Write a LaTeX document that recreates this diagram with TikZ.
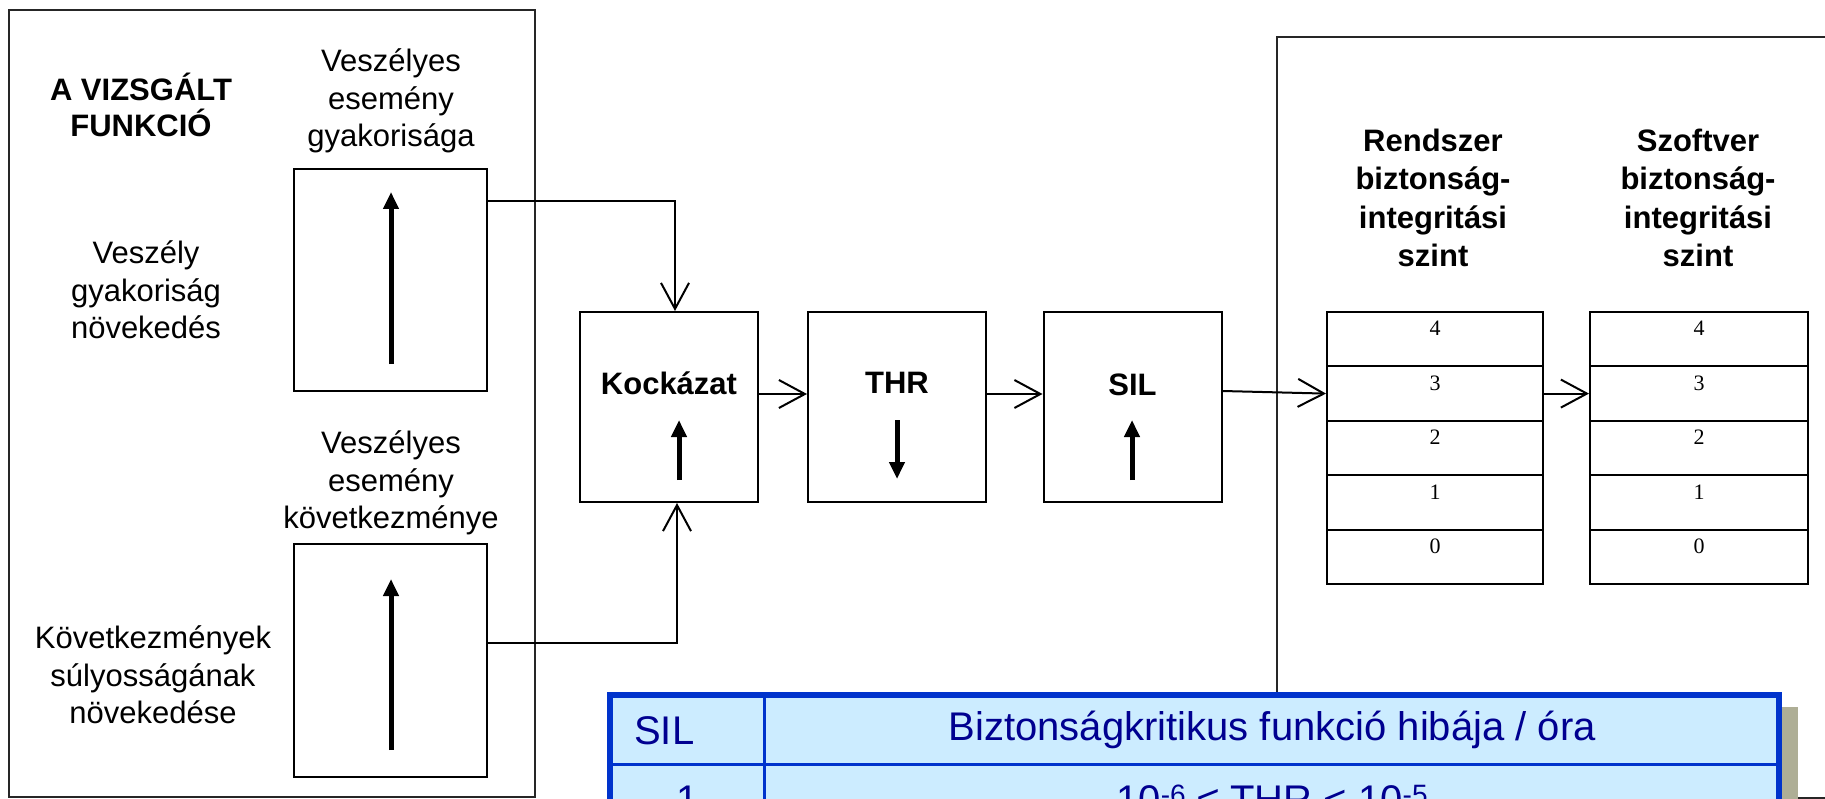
\documentclass[tikz,border=0pt]{standalone}
\usepackage{fontspec}
\setmainfont{Liberation Sans}
\newfontfamily\numfont{Liberation Serif}
\usetikzlibrary{calc}
\usetikzlibrary{arrows.meta}
\usepackage{xcolor}
\definecolor{silblue}{HTML}{0033CC}
\definecolor{silfill}{HTML}{CCECFF}
\definecolor{silink}{HTML}{000090}
\definecolor{silshadow}{HTML}{AEAE96}

\begin{document}
\begin{tikzpicture}[x=1pt,y=-1pt,
  panel/.style={draw=black!85,line width=2pt},
  blk/.style={draw,line width=2pt,minimum width=178pt,minimum height=190pt,inner sep=0pt},
  inbox/.style={draw,line width=2pt,minimum width=193pt,inner sep=0pt},
  txt/.style={align=center,font=\fontsize{31}{37.5}\selectfont},
  btxt/.style={align=center,font=\fontsize{31}{38.5}\selectfont\bfseries},
  flow/.style={line width=2pt,-{Straight Barb[length=26pt,width=28pt]}},
  trend/.style={line width=5pt,-{Triangle[length=17pt,width=15pt]}},
  cell/.style={draw,line width=2pt,minimum height=54.4pt,anchor=north west,inner sep=0pt},
  digit/.style={font=\numfont\fontsize{22}{22}\selectfont,inner sep=0pt},
  tcell/.style={draw=silblue,fill=silfill,line width=2.5pt,anchor=north west,inner sep=0pt,text=silink,font=\fontsize{40}{40}\selectfont}]
\useasboundingbox (0,0) rectangle (1825,799);
\clip (0,0) rectangle (1825,799);

\draw[panel] (9,10) rectangle (535,797);
\node[btxt,font=\fontsize{31}{36}\selectfont\bfseries] (funchead) at (141,105) {A VIZSGÁLT\\FUNKCIÓ};
\node[txt] (freqhead) at (391,101) {Veszélyes\\esemény\\gyakorisága};
\node[inbox,minimum height=222pt] (freq) at (390.5,280) {};
\draw[trend] (391,364) -- (391,192);
\node[txt] (freqrise) at (146,290) {Veszély\\gyakoriság\\növekedés};
\node[txt] (conshead) at (391,483) {Veszélyes\\esemény\\következménye};
\node[inbox,minimum height=233pt] (cons) at (390.5,660.5) {};
\draw[trend] (391,750) -- (391,579);
\node[txt] (consrise) at (153,675) {Következmények\\súlyosságának\\növekedése};

\node[blk] (risk) at (669,407) {};
\node[blk] (thr) at (897,407) {};
\node[blk] (sil) at (1132.5,407) {};
\node[btxt] (risktxt) at (669,383) {Kockázat};
\node[btxt] (thrtxt) at (897,383) {THR};
\node[btxt] (siltxt) at (1132.5,385) {SIL};
\draw[trend] (679,480) -- (679,420);
\draw[trend] (897,420) -- (897,479);
\draw[trend] (1132,480) -- (1132,420);

\coordinate (topin) at (0,201);
\coordinate (botin) at (0,643);
\coordinate (flowline) at (0,394);
\coordinate (silout) at (0,391);
\draw[flow] (freq.east |- topin) -| ([xshift=6pt]risk.north);
\draw[flow] (cons.east |- botin) -| ([xshift=8pt]risk.south);
\draw[flow] (risk.east |- flowline) -- (thr.west |- flowline);
\draw[flow] (thr.east |- flowline) -- (sil.west |- flowline);

\draw[panel,line width=1.5pt] (1277,37) rectangle (1840,798);
\node[btxt] (syshead) at (1433,198) {Rendszer\\biztonság-\\integritási\\szint};
\node[btxt] (swhead) at (1698,198) {Szoftver\\biztonság-\\integritási\\szint};
\foreach \lv in {0,...,4} {
  \node[cell,minimum width=216pt] (sys\lv) at (1326,{311+(4-\lv)*54.4}) {};
  \node[digit] (sysn\lv) at ([yshift=10.5pt]sys\lv.center) {\lv};
  \node[cell,minimum width=218pt] (sw\lv) at (1589,{311+(4-\lv)*54.4}) {};
  \node[digit] (swn\lv) at ([yshift=10.5pt]sw\lv.center) {\lv};
}
\draw[flow] (sil.east |- silout) -- (sys3.west);
\draw[flow] (sys3.east) -- (sw3.west);

\fill[silshadow] (626,707) rectangle (1798,900);
\node[tcell,minimum height=68pt,text width=107pt,align=left,inner xsep=23pt] (silcol) at (610,695) {SIL};
\node[tcell,minimum height=68pt,minimum width=1016pt] (errcol) at (763,695) {Biztonságkritikus funkció hibája / óra};
\node[tcell,minimum height=71pt,minimum width=153pt] (silone) at (610,763) {1};
\node[tcell,minimum height=71pt,minimum width=1016pt] (throne) at (763,763) {10\textsuperscript{-6} ≤ THR < 10\textsuperscript{-5}};
\draw[silblue,line width=6pt] (610,695) rectangle (1779,900);
\end{tikzpicture}
\end{document}
